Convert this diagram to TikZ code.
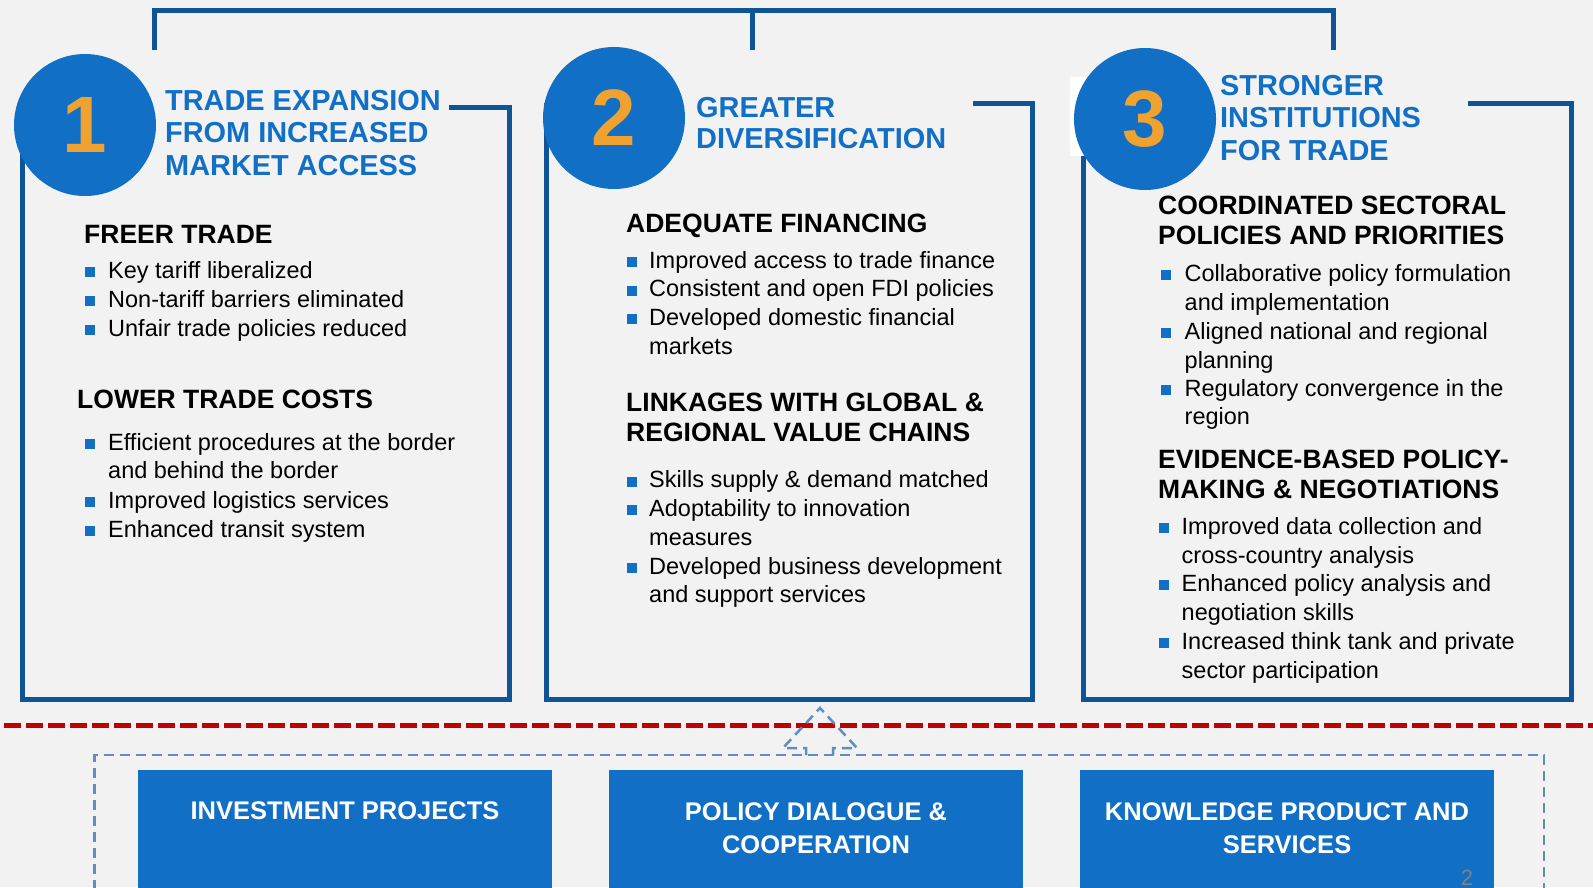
\documentclass[tikz,border=0pt]{standalone}
\usepackage{fontspec}
\setmainfont{Liberation Sans}
\usepackage{xcolor}
\usepackage{tikz}
\usetikzlibrary{positioning}

\definecolor{frameblue}{RGB}{14,84,150}
\definecolor{mainblue}{RGB}{17,112,198}
\definecolor{numorange}{RGB}{240,162,48}
\definecolor{bggray}{RGB}{242,242,242}
\definecolor{dashred}{RGB}{192,0,0}
\definecolor{dashblue}{RGB}{96,142,192}

\tikzset{
  panelline/.style={draw=frameblue, line width=5pt},
  numcircle/.style={circle, fill=mainblue, minimum size=142pt, inner sep=0pt, text=numorange, font=\bfseries\fontsize{80}{80}\selectfont},
  titletext/.style={anchor=base west, inner sep=0pt, text=mainblue, font=\bfseries\fontsize{28.9}{32}\selectfont},
  headtext/.style={anchor=base west, inner sep=0pt, font=\bfseries\fontsize{26.5}{30}\selectfont},
  bodytext/.style={anchor=base west, inner sep=0pt, font=\fontsize{23.5}{29}\selectfont},
  actbox/.style={fill=mainblue, anchor=north, minimum width=414pt, minimum height=125pt, inner sep=0pt},
  acttext/.style={anchor=base, inner sep=0pt, text=white, font=\bfseries\fontsize{25.5}{33}\selectfont},
  dashline/.style={draw=dashblue, line width=2.5pt, dash pattern=on 10pt off 6pt}
}

\begin{document}
\begin{tikzpicture}[x=1pt,y=-1pt]
\fill[bggray] (0,0) rectangle (1593,887);
\useasboundingbox (0,0) rectangle (1593,887);

\draw[panelline] (154,50) -- (154,10) -- (1333,10) -- (1333,50);
\draw[panelline] (752,10) -- (752,50);

\draw[panelline] (449,107) -- (509,107) -- (509,699) -- (22,699) -- (22,107);
\draw[panelline] (973,103) -- (1032,103) -- (1032,699) -- (546,699) -- (546,103);
\draw[panelline] (1468,103) -- (1571,103) -- (1571,699) -- (1083,699) -- (1083,103);
\fill[white] (1070,77) rectangle (1120,156);

\node[numcircle] (c1) at (85,125) {1};
\node[numcircle] (c2) at (614,118) {2};
\node[numcircle] (c3) at (1145,119) {3};

\node[titletext] (t1a) at (165,110) {TRADE EXPANSION};
\node[titletext] (t1b) at (165,142.5) {FROM INCREASED};
\node[titletext] (t1c) at (165,175) {MARKET ACCESS};
\node[titletext] (t2a) at (696,117) {GREATER};
\node[titletext] (t2b) at (696,148) {DIVERSIFICATION};
\node[titletext] (t3a) at (1220,95) {STRONGER};
\node[titletext] (t3b) at (1220,127.5) {INSTITUTIONS};
\node[titletext] (t3c) at (1220,160) {FOR TRADE};

\node[headtext] (h1a) at (84,243) {FREER TRADE};
\node[headtext] (h1b) at (77,408) {LOWER TRADE COSTS};
\node[headtext] (h2a) at (626,232) {ADEQUATE FINANCING};
\node[headtext] (h2b) at (626,411) {LINKAGES WITH GLOBAL \&};
\node[headtext] (h2c) at (626,441) {REGIONAL VALUE CHAINS};
\node[headtext] (h3a) at (1158,214.5) {COORDINATED SECTORAL};
\node[headtext] (h3b) at (1158,244.5) {POLICIES AND PRIORITIES};
\node[headtext] (h3c) at (1158,468.5) {EVIDENCE-BASED POLICY-};
\node[headtext] (h3d) at (1158,498.5) {MAKING \& NEGOTIATIONS};

\foreach \y in {278,307,336,450,508,537}
  \fill[mainblue] (85,\y-11) rectangle ++(10,10);
\node[bodytext] (l1a) at (108,278) {Key tariff liberalized};
\node[bodytext] (l1b) at (108,307) {Non-tariff barriers eliminated};
\node[bodytext] (l1c) at (108,336) {Unfair trade policies reduced};
\node[bodytext] (l1d) at (108,450) {Efficient procedures at the border};
\node[bodytext] (l1e) at (108,478) {and behind the border};
\node[bodytext] (l1f) at (108,508) {Improved logistics services};
\node[bodytext] (l1g) at (108,537) {Enhanced transit system};

\foreach \y in {268,296.5,325,487.5,516,574}
  \fill[mainblue] (626.5,\y-11) rectangle ++(10,10);
\node[bodytext] (l2a) at (649,268) {Improved access to trade finance};
\node[bodytext] (l2b) at (649,296.5) {Consistent and open FDI policies};
\node[bodytext] (l2c) at (649,325) {Developed domestic financial};
\node[bodytext] (l2d) at (649,354.5) {markets};
\node[bodytext] (l2e) at (649,487.5) {Skills supply \& demand matched};
\node[bodytext] (l2f) at (649,516) {Adoptability to innovation};
\node[bodytext] (l2g) at (649,545.5) {measures};
\node[bodytext] (l2h) at (649,574) {Developed business development};
\node[bodytext] (l2i) at (649,602) {and support services};

\foreach \y in {281,339,396}
  \fill[mainblue] (1161,\y-11) rectangle ++(10,10);
\node[bodytext] (l3a) at (1184.5,281) {Collaborative policy formulation};
\node[bodytext] (l3b) at (1184.5,310) {and implementation};
\node[bodytext] (l3c) at (1184.5,339) {Aligned national and regional};
\node[bodytext] (l3d) at (1184.5,368) {planning};
\node[bodytext] (l3e) at (1184.5,396) {Regulatory convergence in the};
\node[bodytext] (l3f) at (1184.5,424.5) {region};
\foreach \y in {534,591,649}
  \fill[mainblue] (1159,\y-11) rectangle ++(10,10);
\node[bodytext] (l3g) at (1181.5,534) {Improved data collection and};
\node[bodytext] (l3h) at (1181.5,563) {cross-country analysis};
\node[bodytext] (l3i) at (1181.5,591) {Enhanced policy analysis and};
\node[bodytext] (l3j) at (1181.5,620.5) {negotiation skills};
\node[bodytext] (l3k) at (1181.5,649) {Increased think tank and private};
\node[bodytext] (l3l) at (1181.5,678.5) {sector participation};

\draw[dashred, line width=5pt, dash pattern=on 17pt off 5pt] (4,725) -- (1593,725);

\draw[dashline] (94.5,890) -- (94.5,755) -- (1544,755) -- (1544,890);
\draw[dashline] (806,755) -- (806,748) -- (783,748) -- (820,708) -- (857,748) -- (833,748) -- (833,755);

\node[actbox] (b1) at (345,770) {};
\node[actbox] (b2) at (816,770) {};
\node[actbox] (b3) at (1287,770) {};
\node[acttext] (b1a) at (345,819) {INVESTMENT PROJECTS};
\node[acttext] (b2a) at (816,820) {POLICY DIALOGUE \&};
\node[acttext] (b2b) at (816,853) {COOPERATION};
\node[acttext] (b3a) at (1287,820) {KNOWLEDGE PRODUCT AND};
\node[acttext] (b3b) at (1287,853) {SERVICES};

\node[anchor=base, inner sep=0pt, text=gray, font=\fontsize{22}{22}\selectfont] (pg) at (1467,885) {2};
\end{tikzpicture}
\end{document}
